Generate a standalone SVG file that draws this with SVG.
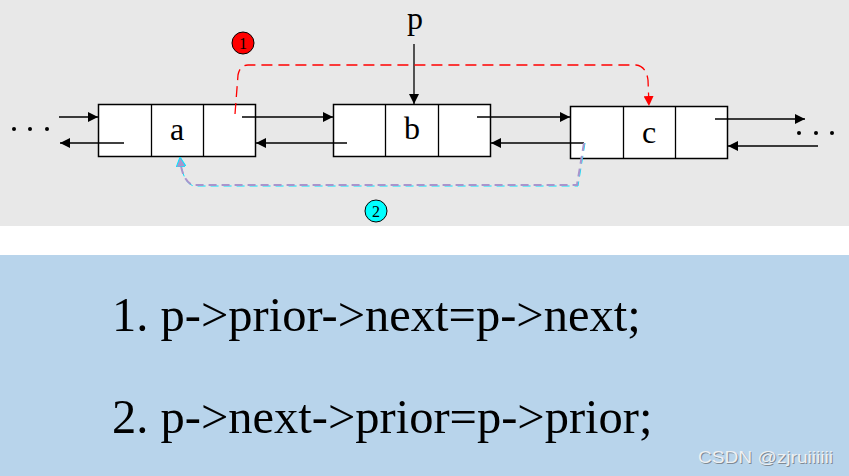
<svg xmlns="http://www.w3.org/2000/svg" width="849" height="476" viewBox="0 0 849 476">
<style>
.box{fill:#fff;stroke:#000;stroke-width:1.5}
.ln{stroke:#000;stroke-width:1.3;fill:none}
.lbl{font-family:'Liberation Serif',serif;font-size:32px;fill:#000;text-anchor:middle}
.code{font-family:'Liberation Serif',serif;font-size:48.5px;fill:#000}
.badge{font-family:'Liberation Serif',serif;font-size:16px;fill:#000;text-anchor:middle}
.dots{fill:#000}
.wm{font-family:'Liberation Sans',sans-serif;font-size:17px}
</style>
<defs>
<marker id="ah" viewBox="0 0 10 10" refX="10" refY="5" markerWidth="10" markerHeight="10" markerUnits="userSpaceOnUse" orient="auto"><path d="M0,0 L10,5 L0,10 Z" fill="#000"/></marker>
<marker id="ahr" viewBox="0 0 10 10" refX="10" refY="5" markerWidth="10" markerHeight="10" markerUnits="userSpaceOnUse" orient="auto"><path d="M0,0 L10,5 L0,10 Z" fill="#f00"/></marker>
<marker id="ahp" viewBox="0 0 10 10" refX="10" refY="5" markerWidth="10" markerHeight="10" markerUnits="userSpaceOnUse" orient="auto"><path d="M0,0 L10,5 L0,10 Z" fill="#a994cc" stroke="#00e5ff" stroke-width="1"/></marker>
</defs>
<rect x="0" y="0" width="849" height="226" fill="#e8e8e8"/>
<rect x="0" y="226" width="849" height="29" fill="#fff"/>
<rect x="0" y="255" width="849" height="221" fill="#b8d4eb"/>

<g id="dots-left">
<circle class="dots" cx="14" cy="129" r="2"/><circle class="dots" cx="30" cy="129" r="2"/><circle class="dots" cx="47" cy="129" r="2"/>
</g>
<g id="dots-right">
<circle class="dots" cx="799" cy="133" r="2"/><circle class="dots" cx="816" cy="133" r="2"/><circle class="dots" cx="832" cy="133" r="2"/>
</g>

<g id="node-a">
<rect class="box" x="98.5" y="104.5" width="157" height="52"/>
<line class="ln" x1="151.5" y1="104.5" x2="151.5" y2="156.5"/>
<line class="ln" x1="203.5" y1="104.5" x2="203.5" y2="156.5"/>
<text class="lbl" x="177" y="140" font-family="Liberation Serif, serif">a</text>
</g>
<g id="node-b">
<rect class="box" x="333.5" y="104.5" width="157" height="52"/>
<line class="ln" x1="385.5" y1="104.5" x2="385.5" y2="156.5"/>
<line class="ln" x1="438.5" y1="104.5" x2="438.5" y2="156.5"/>
<text class="lbl" x="412" y="139" font-family="Liberation Serif, serif">b</text>
</g>
<g id="node-c">
<rect class="box" x="570.5" y="106.5" width="157" height="52"/>
<line class="ln" x1="623.5" y1="106.5" x2="623.5" y2="158.5"/>
<line class="ln" x1="675.5" y1="106.5" x2="675.5" y2="158.5"/>
<text class="lbl" x="649" y="143" font-family="Liberation Serif, serif">c</text>
</g>
<g id="label-p">
<text class="lbl" x="415" y="29" font-family="Liberation Serif, serif">p</text>
</g>
<g id="badge-1">
<circle cx="243" cy="43" r="11" fill="#f00" stroke="#000" stroke-width="1"/>
<text class="badge" x="243" y="49" font-family="Liberation Serif, serif">1</text>
</g>
<g id="badge-2">
<circle cx="376" cy="211" r="11" fill="#00ffff" stroke="#000" stroke-width="1"/>
<text class="badge" x="376" y="217" font-family="Liberation Serif, serif">2</text>
</g>

<g id="connectors">
<line class="ln" x1="59" y1="117" x2="98" y2="117" marker-end="url(#ah)"/>
<line class="ln" x1="124" y1="143" x2="60" y2="143" marker-end="url(#ah)"/>
<line class="ln" x1="242" y1="117" x2="333" y2="117" marker-end="url(#ah)"/>
<line class="ln" x1="347" y1="143" x2="256" y2="143" marker-end="url(#ah)"/>
<line class="ln" x1="477" y1="117" x2="570" y2="117" marker-end="url(#ah)"/>
<line class="ln" x1="584" y1="143" x2="491" y2="143" marker-end="url(#ah)"/>
<line class="ln" x1="715" y1="119" x2="805" y2="119" marker-end="url(#ah)"/>
<line class="ln" x1="818" y1="146" x2="728" y2="146" marker-end="url(#ah)"/>
<line class="ln" x1="414" y1="44" x2="414" y2="104" marker-end="url(#ah)"/>
<path d="M235,114 L238,75 Q240,65 248,65 L636,65 Q646,66 648,80 L649,106" fill="none" stroke="#f00" stroke-width="1.3" stroke-dasharray="11 6" marker-end="url(#ahr)"/>
<path d="M585,143 L578,186 L194,186 Q184,184 181,164" fill="none" stroke="#00e5ff" stroke-width="1" stroke-dasharray="8 5"/>
<path d="M584,143 L577,185 L193,185 Q184,182 181,166 L180,157" fill="none" stroke="#a994cc" stroke-width="2" stroke-dasharray="8 5" marker-end="url(#ahp)"/>
</g>

<text class="code" x="112" y="331" font-family="Liberation Serif, serif">1. p-&gt;prior-&gt;next=p-&gt;next;</text>
<text class="code" x="112" y="433" font-family="Liberation Serif, serif">2. p-&gt;next-&gt;prior=p-&gt;prior;</text>
<text class="wm" x="699" y="464" textLength="135" lengthAdjust="spacingAndGlyphs" fill="#7f8a94" font-family="Liberation Sans, sans-serif">CSDN @zjruiiiiii</text>
<text class="wm" x="698" y="463" textLength="135" lengthAdjust="spacingAndGlyphs" fill="#eef0f2" font-family="Liberation Sans, sans-serif">CSDN @zjruiiiiii</text>
</svg>
